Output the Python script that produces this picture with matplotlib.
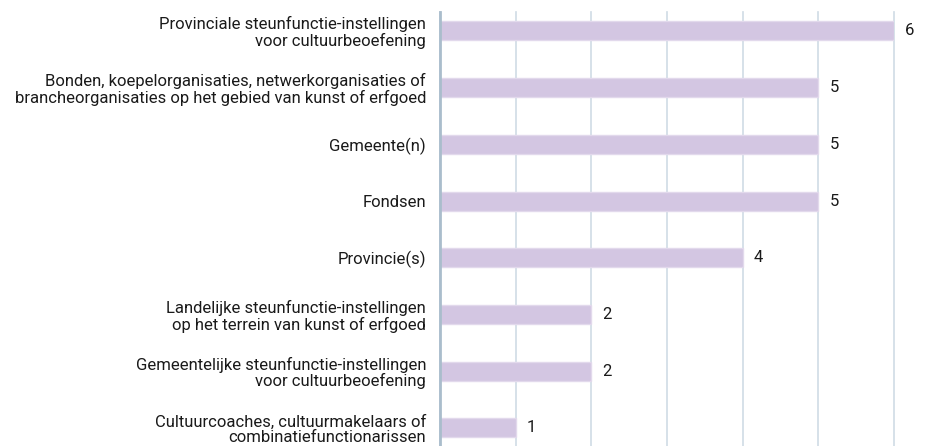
import matplotlib

matplotlib.use("Agg")
import matplotlib.pyplot as plt
import numpy as np

categories = [
    "Provinciale steunfunctie-instellingen\nvoor cultuurbeoefening",
    "Bonden, koepelorganisaties, netwerkorganisaties of\nbrancheorganisaties op het gebied van kunst of erfgoed",
    "Gemeente(n)",
    "Fondsen",
    "Provincie(s)",
    "Landelijke steunfunctie-instellingen\nop het terrein van kunst of erfgoed",
    "Gemeentelijke steunfunctie-instellingen\nvoor cultuurbeoefening",
    "Cultuurcoaches, cultuurmakelaars of\ncombinatiefunctionarissen",
]
counts = [6, 5, 5, 5, 4, 2, 2, 1]

BAR_COLOR = "#d3c6e2"
BAR_EDGE = "#e2d9ec"
GRID_COLOR = "#cfdbe5"
AXIS_COLOR = "#aabdcc"
TEXT_COLOR = "#1a1a1a"

plt.rcParams["font.family"] = ["Roboto", "DejaVu Sans"]

fig = plt.figure(figsize=(9.53, 4.46), dpi=100)
ax = fig.add_axes([440 / 953, 0.0, 454 / 953, 1 - 12 / 446])

y = np.arange(len(categories))
bars = ax.barh(y, counts, height=0.335, color=BAR_COLOR, edgecolor=BAR_EDGE,
               linewidth=1.0, zorder=2)

ax.set_xlim(0, 6)
ax.set_ylim(len(categories) - 1 + 0.32, -0.335)

ax.set_xticks(range(0, 7))
ax.tick_params(axis="x", length=0, labelbottom=False)
ax.xaxis.grid(True, color=GRID_COLOR, linewidth=1.2, zorder=0)
for gl in ax.get_xgridlines():
    gl.set_clip_on(False)

ax.set_yticks(y)
ax.set_yticklabels(categories, fontsize=12, color=TEXT_COLOR, linespacing=1.05)
ax.tick_params(axis="y", length=0, pad=10)

for side in ("top", "right", "bottom"):
    ax.spines[side].set_visible(False)
ax.spines["left"].set_color(AXIS_COLOR)
ax.spines["left"].set_linewidth(2.0)
ax.spines["left"].set_zorder(3)

for rect, val in zip(bars, counts):
    ax.annotate(str(val), (rect.get_width(), rect.get_y() + rect.get_height() / 2),
                xytext=(8, 0), textcoords="offset points", ha="left", va="center",
                fontsize=12, color=TEXT_COLOR, annotation_clip=False)

fig.savefig("out.png", dpi=100)
